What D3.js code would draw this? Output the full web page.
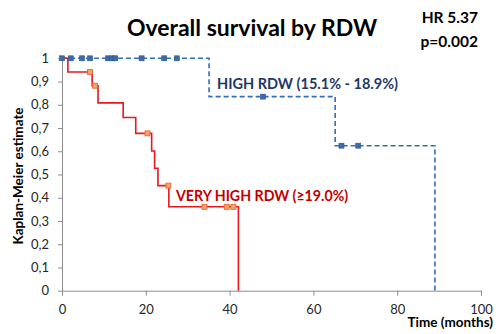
<!DOCTYPE html>
<html>
<head>
<meta charset="utf-8">
<script src="https://cdn.jsdelivr.net/npm/d3@7/dist/d3.min.js"></script>
<style>
  html, body { margin: 0; padding: 0; background: #fff; }
  svg { display: block; font-family: "Lato", "Open Sans", sans-serif; }
</style>
</head>
<body>
<svg id="chart" width="500" height="334"></svg>
<script>
// Kaplan-Meier step curves: event times (months) and survival after each step
const highTimes = [0, 35.1, 65.2, 89.0];
const highSurv  = [1, 0.835, 0.624, 0];
const highCensorT = [0, 2.1, 4.8, 6.7, 11.0, 12.0, 12.7, 19.0, 24.4, 27.4, 48.0, 66.7, 70.7];
const highCensorS = [1, 1, 1, 1, 1, 1, 1, 1, 1, 1, 0.835, 0.624, 0.624];

const vhighTimes = [0, 1.4, 7.2, 8.6, 14.6, 17.6, 21.4, 22.1, 22.9, 25.5, 42.1];
const vhighSurv  = [1, 0.941, 0.882, 0.808, 0.745, 0.677, 0.601, 0.527, 0.452, 0.361, 0];
const vhighCensorT = [6.7, 7.9, 20.4, 25.4, 34.0, 39.3, 40.9];
const vhighCensorS = [0.941, 0.882, 0.677, 0.452, 0.361, 0.361, 0.361];

const xTicks = [0, 20, 40, 60, 80, 100];
const yTicks = [0, 0.1, 0.2, 0.3, 0.4, 0.5, 0.6, 0.7, 0.8, 0.9, 1];
const yTickLabels = ["0", "0,1", "0,2", "0,3", "0,4", "0,5", "0,6", "0,7", "0,8", "0,9", "1"];

const svg = d3.select("#chart");
const x = d3.scaleLinear().domain([0, 100]).range([62, 481]);
const y = d3.scaleLinear().domain([0, 1]).range([290.7, 58.3]);

// axes
const axisColor = "#8c8c8c";
const xAxis = svg.append("g").attr("transform", `translate(0,${y(0)})`)
  .call(d3.axisBottom(x).tickValues(xTicks).tickSize(5).tickSizeOuter(0).tickPadding(9));
const yAxis = svg.append("g").attr("transform", `translate(${x(0)},0)`)
  .call(d3.axisLeft(y).tickValues(yTicks).tickSize(4).tickSizeOuter(0).tickPadding(9)
    .tickFormat((d, i) => yTickLabels[i]));
[xAxis, yAxis].forEach(g => {
  g.select(".domain").attr("stroke", axisColor).attr("stroke-width", 1);
  g.selectAll(".tick line").attr("stroke", axisColor);
  g.selectAll(".tick text").attr("fill", "#262626").style("font-size", "13px")
    .style("font-family", "Lato, 'Open Sans', sans-serif");
});

// step line builder
function stepPoints(times, surv) {
  const pts = [[times[0], surv[0]]];
  for (let i = 1; i < times.length; i++) {
    pts.push([times[i], surv[i - 1]]);
    pts.push([times[i], surv[i]]);
  }
  return pts;
}
const line = d3.line().x(d => x(d[0])).y(d => y(d[1]));

// high RDW curve (dashed blue)
svg.append("path").datum(stepPoints(highTimes, highSurv))
  .attr("d", line).attr("fill", "none")
  .attr("stroke", "#2f6fbf").attr("stroke-width", 1.6).attr("stroke-dasharray", "5,3");

// very high RDW curve (solid red)
svg.append("path").datum(stepPoints(vhighTimes, vhighSurv))
  .attr("d", line).attr("fill", "none")
  .attr("stroke", "#e8191c").attr("stroke-width", 1.6);

// censor marks
svg.append("g").selectAll("rect").data(highCensorT).join("rect")
  .attr("x", d => x(d) - 2.5).attr("y", (d, i) => y(highCensorS[i]) - 2.5)
  .attr("width", 5).attr("height", 5)
  .attr("fill", "#3e6aa6").attr("stroke", "#2d5790").attr("stroke-width", 0.6);
svg.append("g").selectAll("rect").data(vhighCensorT).join("rect")
  .attr("x", d => x(d) - 2.5).attr("y", (d, i) => y(vhighCensorS[i]) - 2.5)
  .attr("width", 5).attr("height", 5)
  .attr("fill", "#f4a070").attr("stroke", "#e0602a").attr("stroke-width", 0.8);

// titles and labels
svg.append("text").attr("x", 252).attr("y", 36).attr("text-anchor", "middle")
  .style("font-size", "23px").style("font-weight", "bold").attr("fill", "#000")
  .text("Overall survival by RDW");
svg.append("text").attr("x", 478).attr("y", 23).attr("text-anchor", "end")
  .style("font-size", "15.5px").style("font-weight", "bold").attr("fill", "#000")
  .text("HR 5.37");
svg.append("text").attr("x", 478).attr("y", 47).attr("text-anchor", "end")
  .style("font-size", "15.5px").style("font-weight", "bold").attr("fill", "#000")
  .text("p=0.002");

svg.append("text").attr("x", 217).attr("y", 89)
  .style("font-size", "14.5px").style("font-weight", "bold")
  .attr("fill", "#1f3864")
  .text("HIGH RDW (15.1% - 18.9%)");
svg.append("text").attr("x", 176).attr("y", 201)
  .style("font-size", "14.2px").style("font-weight", "bold").attr("fill", "#c00000")
  .text("VERY HIGH RDW (\u226519.0%)");

svg.append("text").attr("transform", "translate(23,176) rotate(-90)")
  .attr("text-anchor", "middle")
  .style("font-size", "13.5px").style("font-weight", "bold").attr("fill", "#000")
  .text("Kaplan-Meier estimate");
svg.append("text").attr("x", 493).attr("y", 327).attr("text-anchor", "end")
  .style("font-size", "13.5px").style("font-weight", "bold").attr("fill", "#000")
  .text("Time (months)");
</script>
</body>
</html>
